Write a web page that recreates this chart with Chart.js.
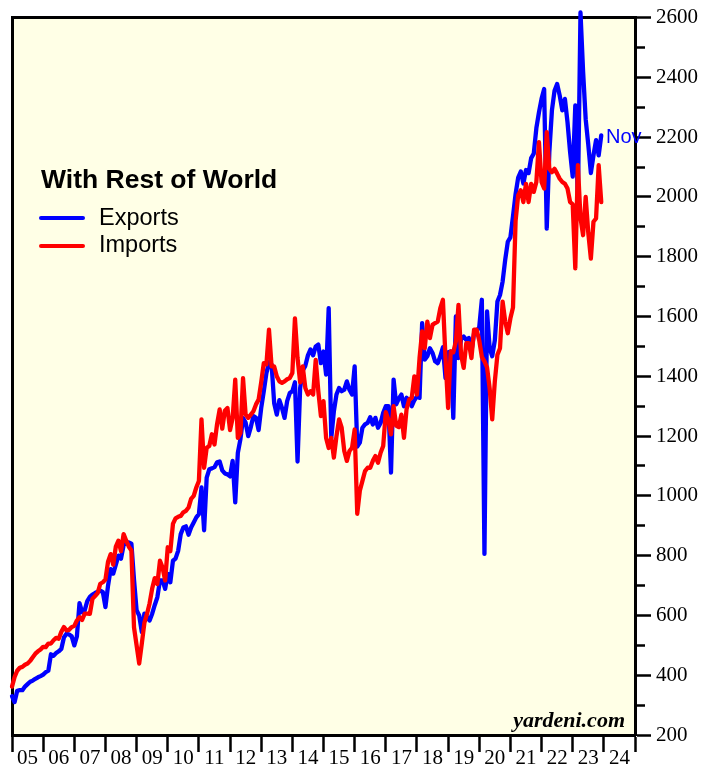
<!DOCTYPE html>
<html>
<head>
<meta charset="utf-8">
<title>With Rest of World</title>
<script src="https://cdn.jsdelivr.net/npm/chart.js@4.4.1/dist/chart.umd.min.js"></script>
<style>
html, body { margin: 0; padding: 0; background: #fff; }
#wrap { position: relative; width: 706px; height: 767px; overflow: hidden; }
canvas { display: block; }
.txt { position: absolute; white-space: nowrap; line-height: 1; }
.sans { font-family: "Liberation Sans", Arial, sans-serif; }
.key { position: absolute; width: 46px; height: 4px; border-radius: 2px; }
</style>
</head>
<body>
<div id="wrap">
  <canvas id="tradeChart" width="706" height="767"></canvas>
  <div class="txt sans" style="left:41px;top:166px;font-size:26.5px;font-weight:bold;color:#000">With Rest of World</div>
  <div class="key" style="left:39px;top:216px;background:#0000ff"></div>
  <div class="txt sans" style="left:99px;top:206px;font-size:23.5px;color:#000">Exports</div>
  <div class="key" style="left:39px;top:244px;background:#ff0000"></div>
  <div class="txt sans" style="left:99px;top:233px;font-size:23.5px;color:#000">Imports</div>
  <div id="lastLabel" class="txt sans" style="left:606px;top:126px;font-size:20px;color:#0000ff"></div>
  <div class="txt" style="right:81px;top:709px;font-family:'Liberation Serif','Times New Roman',serif;font-size:22px;font-weight:bold;font-style:italic;color:#000">yardeni.com</div>
</div>
<script>
// monthly values, one row per 12 months, first point = Dec 2004, last = Nov 2023
var exportsData = [
  330, 310, 348, 350, 350, 362, 370, 378, 382, 388, 393, 397,
  402, 410, 415, 470, 465, 474, 480, 488, 526, 539, 536, 530,
  500, 530, 641, 611, 617, 648, 662, 670, 675, 679, 683, 678,
  628, 700, 755, 740, 770, 800, 790, 835, 844, 844, 840, 720,
  617, 600, 545, 606, 595, 583, 606, 635, 661, 717, 717, 689,
  739, 711, 783, 790, 816, 872, 894, 898, 870, 894, 911, 928,
  939, 1028, 885, 1061, 1089, 1092, 1096, 1112, 1115, 1085, 1075, 1072,
  1065, 1117, 978, 1144, 1190, 1260, 1245, 1200, 1230, 1267, 1261, 1220,
  1294, 1350, 1410, 1447, 1440, 1310, 1272, 1320, 1294, 1261, 1317, 1344,
  1350, 1380, 1115, 1360, 1420, 1435, 1470, 1490, 1470, 1500, 1506, 1444,
  1483, 1406, 1628, 1194, 1283, 1339, 1361, 1350, 1355, 1383, 1355, 1339,
  1433, 1165, 1178, 1228, 1239, 1244, 1263, 1239, 1261, 1228, 1244, 1278,
  1300, 1300, 1078, 1389, 1306, 1325, 1339, 1300, 1328, 1320, 1300, 1320,
  1333, 1328, 1578, 1456, 1467, 1494, 1478, 1450, 1444, 1467, 1497, 1394,
  1480, 1483, 1261, 1600, 1461, 1525, 1533, 1522, 1528, 1483, 1544, 1550,
  1565, 1656, 806, 1617, 1494, 1467, 1520, 1650, 1672, 1717, 1790, 1850,
  1865, 1935, 2010, 2065, 2085, 2045, 2090, 2080, 2130, 2145, 2230, 2283,
  2328, 2361, 1894, 2150, 2290, 2355, 2378, 2339, 2290, 2328, 2250, 2150,
  2068, 2306, 1983, 2617, 2420, 2260, 2175, 2080, 2139, 2190, 2139, 2206
];
var importsData = [
  362, 394, 415, 425, 428, 435, 439, 448, 460, 472, 480, 486,
  495, 494, 506, 506, 517, 525, 522, 545, 561, 550, 552, 561,
  565, 583, 594, 585, 606, 606, 605, 656, 665, 675, 706, 711,
  720, 780, 805, 770, 830, 850, 815, 872, 850, 830, 817, 560,
  500, 439, 505, 575, 605, 640, 690, 725, 705, 783, 760, 717,
  828, 815, 906, 925, 930, 933, 945, 950, 961, 990, 1000, 1028,
  1050, 1256, 1094, 1161, 1167, 1206, 1172, 1240, 1289, 1225, 1285, 1294,
  1220, 1260, 1389, 1194, 1210, 1394, 1272, 1261, 1272, 1283, 1306, 1322,
  1380, 1444, 1440, 1556, 1433, 1433, 1400, 1383, 1378, 1383, 1390, 1394,
  1411, 1594, 1461, 1380, 1433, 1361, 1339, 1350, 1339, 1455, 1350, 1267,
  1317, 1194, 1160, 1194, 1128, 1200, 1256, 1228, 1150, 1117, 1150, 1161,
  1222, 940, 1017, 1050, 1083, 1094, 1094, 1117, 1133, 1111, 1144, 1167,
  1280, 1255, 1206, 1300, 1235, 1230, 1272, 1194, 1290, 1322, 1328, 1400,
  1339, 1461, 1550, 1494, 1583, 1528, 1572, 1578, 1583, 1628, 1656, 1461,
  1294, 1483, 1480, 1517, 1639, 1472, 1428, 1511, 1511, 1461, 1556, 1556,
  1520, 1465, 1450, 1430, 1360, 1256, 1383, 1472, 1494, 1650, 1583, 1544,
  1594, 1630, 1920, 2006, 2022, 1983, 2044, 1983, 2044, 2017, 2050, 2183,
  2050, 2028, 2217, 2094, 2083, 2094, 2078, 2061, 2050, 2044, 2028, 1983,
  1975, 1761, 2106, 1930, 1872, 2000, 1880, 1794, 1917, 1928, 2106, 1983
];
var yearLabels = ['05', '06', '07', '08', '09', '10', '11', '12', '13', '14',
                  '15', '16', '17', '18', '19', '20', '21', '22', '23', '24'];
var firstYear = 2005, lastYear = 2025;
var lastMonthLabel = 'Nov';

document.getElementById('lastLabel').textContent = lastMonthLabel;

// month-end positions: point i sits at firstYear + i/12
function toPoints(values) {
    return values.map(function (v, i) { return {x: firstYear + i / 12, y: v}; });
}

var plotBackground = {
    id: 'plotBackground',
    beforeDraw: function (chart) {
        var ctx = chart.ctx, a = chart.chartArea;
        ctx.save();
        ctx.fillStyle = '#ffffff';
        ctx.fillRect(0, 0, chart.width, chart.height);
        ctx.fillStyle = '#ffffe6';
        ctx.fillRect(a.left, a.top, a.right - a.left, a.bottom - a.top);
        ctx.restore();
    }
};

var serifFamily = "'Liberation Serif', 'Times New Roman', serif";

new Chart(document.getElementById('tradeChart'), {
    type: 'line',
    data: {
        datasets: [
            {
                label: 'Imports',
                data: toPoints(importsData),
                borderColor: '#ff0000',
                borderWidth: 4.3,
                pointRadius: 0,
                tension: 0,
                borderJoinStyle: 'round',
                borderCapStyle: 'round',
                clip: false,
                order: 0
            },
            {
                label: 'Exports',
                data: toPoints(exportsData),
                borderColor: '#0000ff',
                borderWidth: 4.3,
                pointRadius: 0,
                tension: 0,
                borderJoinStyle: 'round',
                borderCapStyle: 'round',
                clip: false,
                order: 1
            }
        ]
    },
    options: {
        responsive: false,
        animation: false,
        events: [],
        layout: { padding: { left: 12, top: 15, right: 0, bottom: 0 } },
        plugins: {
            legend: { display: false },
            tooltip: { enabled: false }
        },
        scales: {
            x: {
                type: 'linear',
                position: 'bottom',
                min: firstYear,
                max: lastYear,
                afterFit: function (s) { s.height = 32; },
                border: { display: true, color: '#000', width: 3 },
                grid: {
                    drawOnChartArea: false,
                    tickLength: 17,
                    tickWidth: 2.5,
                    tickColor: function (c) {
                        return Number.isInteger(c.tick.value) ? '#000' : 'rgba(0,0,0,0)';
                    }
                },
                ticks: {
                    stepSize: 0.5,
                    maxTicksLimit: 100,
                    autoSkip: false,
                    maxRotation: 0,
                    padding: -6,
                    color: '#000',
                    font: {family: serifFamily, size: 21},
                    callback: function (v) {
                        return Number.isInteger(v) ? '' : yearLabels[Math.floor(v) - firstYear];
                    }
                }
            },
            y: {
                type: 'linear',
                position: 'right',
                min: 200,
                max: 2600,
                afterFit: function (s) { s.width = 71; },
                border: { display: true, color: '#000', width: 3 },
                grid: {
                    drawOnChartArea: false,
                    tickLength: 16,
                    tickWidth: 2.5,
                    tickColor: '#000',
                    tickBorderDash: function (c) {
                        return c.tick.value % 200 === 0 ? [] : [8, 40]; // minor ticks are half length
                    }
                },
                ticks: {
                    stepSize: 100,
                    maxTicksLimit: 100,
                    autoSkip: false,
                    padding: 5,
                    color: '#000',
                    font: {family: serifFamily, size: 21},
                    callback: function (v) { return v % 200 === 0 ? String(v) : ''; }
                }
            },
            xTop: {
                type: 'linear',
                position: 'top',
                min: 0,
                max: 1,
                afterFit: function (s) { s.height = 0; },
                border: { display: true, color: '#000', width: 3 },
                grid: { drawOnChartArea: false, drawTicks: false },
                ticks: { display: false }
            },
            yLeft: {
                type: 'linear',
                position: 'left',
                min: 0,
                max: 1,
                afterFit: function (s) { s.width = 0; },
                border: { display: true, color: '#000', width: 3 },
                grid: { drawOnChartArea: false, drawTicks: false },
                ticks: { display: false }
            }
        }
    },
    plugins: [plotBackground]
});
</script>
</body>
</html>
